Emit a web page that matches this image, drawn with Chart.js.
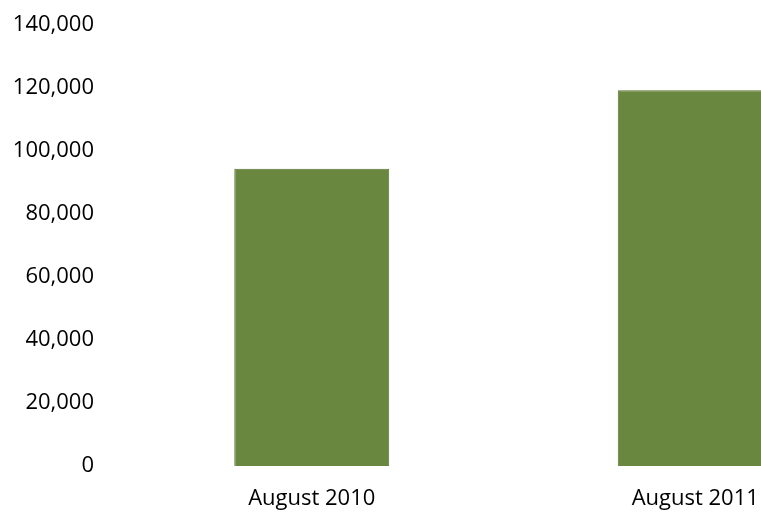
<!DOCTYPE html>
<html>
<head>
<meta charset="utf-8">
<script src="https://cdn.jsdelivr.net/npm/chart.js@4.4.1/dist/chart.umd.min.js"></script>
<style>
  html, body { margin: 0; padding: 0; background: #fff; overflow: hidden; }
  #wrap { width: 761px; height: 522px; overflow: hidden; }
</style>
</head>
<body>
<div id="wrap"><canvas id="chart" width="890" height="522"></canvas></div>
<script>
// 数据
const categories = ['August 2010', 'August 2011'];
const visitors = [94300, 119200];
const yTicks = [0, 20000, 40000, 60000, 80000, 100000, 120000, 140000];

const ctx = document.getElementById('chart').getContext('2d');
new Chart(ctx, {
    type: 'bar',
    data: {
        labels: categories,
        datasets: [{
            data: visitors,
            backgroundColor: '#6a873f',
            borderColor: '#5a7433',
            borderWidth: 1,
            categoryPercentage: 1,
            barPercentage: 0.404
        }]
    },
    options: {
        responsive: false,
        animation: false,
        layout: { padding: { top: 0, right: 3, left: 0, bottom: 0 } },
        plugins: {
            legend: { display: false },
            tooltip: { enabled: false }
        },
        scales: {
            x: {
                grid: { display: false },
                border: { display: false },
                ticks: {
                    color: '#000',
                    padding: 12,
                    font: { family: 'Open Sans', size: 22 }
                },
                afterFit: scale => { scale.height = 56; }
            },
            y: {
                min: 0,
                max: 140000,
                grid: { display: false },
                border: { display: false },
                afterBuildTicks: scale => { scale.ticks = yTicks.map(v => ({ value: v })); },
                ticks: {
                    color: '#000',
                    padding: 18,
                    font: { family: 'Open Sans', size: 22, lineHeight: 0.6 },
                    callback: v => v.toLocaleString('en-US')
                },
                afterFit: scale => { scale.width = 120; }
            }
        }
    }
});
</script>
</body>
</html>
